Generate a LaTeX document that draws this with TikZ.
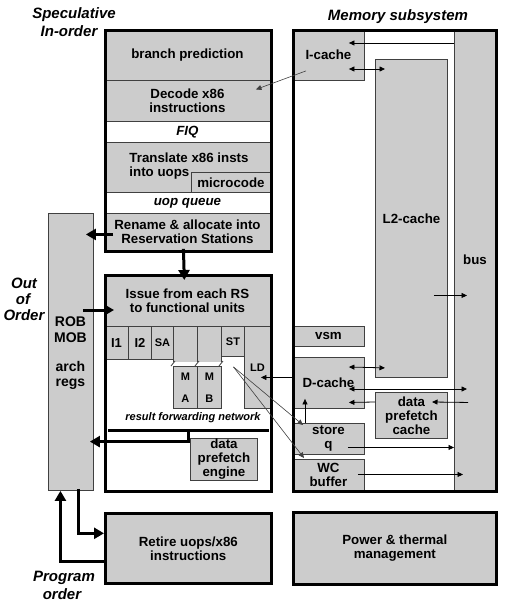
\documentclass[tikz,border=0pt]{standalone}
\usepackage{fontspec}
\setmainfont{Liberation Sans}
\usetikzlibrary{arrows.meta,calc}
\definecolor{boxgray}{HTML}{CCCCCC}
\definecolor{edgegray}{HTML}{404040}
\newcommand{\mybox}[7]{\node[#6, anchor=north west, minimum width={#4-#2}, minimum height={#5-#3}, inner sep=0pt] (#1) at (#2,#3) {#7};}
\tikzset{
 gbox/.style={draw=edgegray, line width=0.9pt, fill=boxgray, font=\bfseries\fontsize{13.3}{14}\selectfont, align=center},
 wbox/.style={gbox, fill=white, font=\bfseries\itshape\fontsize{13.3}{14}\selectfont},
 sbox/.style={gbox, font=\bfseries\fontsize{11}{12}\selectfont},
 ibox/.style={gbox, font=\bfseries\fontsize{13}{14}\selectfont},
 outer/.style={draw=black, line width=2.6pt},
 thinarrow/.style={draw=black, line width=0.8pt, -{Triangle[length=5.5pt,width=5pt]}},
 thindarrow/.style={draw=black, line width=0.8pt, {Triangle[length=5.5pt,width=5pt]}-{Triangle[length=5.5pt,width=5pt]}},
 greyarrow/.style={draw=edgegray, line width=0.6pt, -{Triangle[length=5.5pt,width=5pt]}},
 thickarrow/.style={draw=black, line width=3pt, line join=miter, -{Triangle[length=10pt,width=11pt]}},
 title/.style={font=\bfseries\itshape\fontsize{15}{16}\selectfont, inner sep=0pt, align=center},
 plain/.style={font=\bfseries\fontsize{13.3}{14}\selectfont, inner sep=0pt, align=center},
 slash/.style={draw=edgegray, line width=0.8pt},
}
\begin{document}
\begin{tikzpicture}[x=1pt,y=-1pt]
\useasboundingbox (0,0) rectangle (505,605);
\fill[white] (0,0) rectangle (505,605);

% titles
\node[title] (t1) at (74,15) {Speculative};
\node[title] (t2) at (69,31) {In-order};
\node[title] (t3) at (398,17) {Memory subsystem};
\node[title] (t4) at (24,283) {Out};
\node[title] (t5) at (23,299) {of};
\node[title] (t6) at (24,315) {Order};
\node[title] (t7) at (64,578) {Program};
\node[title] (t8) at (62,594) {order};

% speculative in-order column
\mybox{branch}{104}{29}{270}{80}{gbox}{branch prediction}
\mybox{decode}{104}{80}{270}{121}{gbox}{Decode x86\\instructions}
\mybox{fiq}{104}{121}{270}{142}{wbox}{FIQ}
\mybox{translate}{104}{142}{270}{192}{gbox}{}
\node[plain, align=left] (translatetxt) at (189,166) {Translate x86 insts\\into uops};
\mybox{micro}{191}{172}{270}{192}{gbox}{microcode}
\mybox{uopq}{104}{192}{270}{213}{wbox}{uop queue}
\mybox{rename}{104}{213}{270}{250}{gbox}{Rename \& allocate into\\Reservation Stations}
\mybox{spec}{104}{29}{270}{250}{outer}{}

% ROB column
\mybox{rob}{48}{213}{93}{490}{gbox}{}
\node[plain, font=\bfseries\fontsize{14}{16}\selectfont] (robtxt) at (70.5,330) {ROB\\MOB};
\node[plain, font=\bfseries\fontsize{14}{15}\selectfont] (archtxt) at (70.5,375) {arch\\regs};

% issue / out-of-order block
\mybox{issuefill}{104}{274}{270}{490}{draw=none,fill=white}{}
\mybox{issuetop}{104}{274}{270}{326}{gbox}{Issue from each RS\\to functional units}
\mybox{i1}{104}{326}{128}{359}{ibox}{I1}
\mybox{i2}{128}{326}{151}{359}{ibox}{I2}
\mybox{sa}{151}{326}{173}{359}{sbox}{SA}
\mybox{mau}{173}{326}{197}{362}{gbox}{}
\mybox{mbu}{197}{326}{221}{362}{gbox}{}
\mybox{st}{221}{326}{244}{356}{sbox}{ST}
\mybox{ld}{244}{326}{270}{408}{sbox}{LD}
\mybox{ma}{173}{366}{197}{408}{sbox}{M\\[10pt]A}
\mybox{mb}{197}{366}{221}{408}{sbox}{M\\[10pt]B}
\fill[white] (172,362.4) rectangle (222,365.6);
\draw[slash] (171,366) -- (175,361);
\draw[slash] (195,366) -- (199,361);
\draw[slash] (219,366) -- (223,361);
\node[font=\bfseries\itshape\fontsize{11}{12}\selectfont, inner sep=0pt] (rfn) at (193,418) {result forwarding network};
\mybox{dpe}{190}{438}{257}{480}{gbox}{data\\prefetch\\engine}
\mybox{issue}{104}{274}{270}{490}{outer}{}

% retire and power
\mybox{retire}{104}{512}{270}{582}{gbox, line width=2.6pt, draw=black}{Retire uops/x86\\instructions}
\mybox{power}{292}{511}{495}{583}{gbox, line width=2.6pt, draw=black}{Power \& thermal\\management}

% memory subsystem
\mybox{memfill}{292}{29}{495}{490}{draw=none,fill=white}{}
\mybox{bus}{454}{29}{495}{490}{gbox}{bus}
\mybox{icache}{292}{29}{364}{80}{gbox}{I-cache}
\mybox{l2}{375}{59}{447}{377}{gbox}{L2-cache}
\mybox{vsm}{292}{326}{364}{346}{gbox}{vsm}
\mybox{dcache}{292}{357}{364}{408}{gbox}{D-cache}
\mybox{dpc}{375}{392}{447}{438}{gbox}{data\\prefetch\\cache}
\mybox{storeq}{292}{423}{364}{454}{gbox}{store\\q}
\mybox{wc}{292}{459}{364}{490}{gbox}{WC\\buffer}
\mybox{mem}{292}{29}{495}{490}{outer}{}

% thin connectors in the memory subsystem
\draw[thinarrow] ($(bus.north west)+(0,14)$) -- ($(icache.north east)+(-16,14)$);
\draw[thindarrow] ($(icache.north east)+(-16,40)$) -- ($(l2.north west)+(10,10)$);
\draw[greyarrow] ($(icache.south west)+(14,-10)$) -- ($(decode.east)+(-15,-11.5)$);
\draw[thinarrow] ($(l2.east)+(-14,77)$) -- ($(bus.west)+(13,35.5)$);
\draw[thindarrow] ($(dcache.north east)+(-16,10)$) -- ($(l2.south west)+(10,-10)$);
\coordinate (dcb) at ($(dcache.north east)+(-16,32)$);
\draw[thindarrow] (dcb) -- ([xshift=13pt]dcb -| bus.west);
\draw[thinarrow] ($(dpc.north west)+(0,10)$) -- ($(dcache.east)+(-16,19.5)$);
\draw[thinarrow] ($(bus.west)+(14,142.5)$) -- ($(dpc.north west)+(57,10)$);
\coordinate (sqb) at ($(storeq.east)+(-17,8.5)$);
\draw[thinarrow] (sqb) -- (sqb -| bus.west);
\coordinate (wcb) at ($(wc.east)+(-7,-0.5)$);
\draw[thinarrow] (wcb) -- ([xshift=9pt]wcb -| bus.west);
\draw[thinarrow] ($(storeq.north west)+(13,0)$) -- ($(dcache.south west)+(13,-10)$);
\coordinate (stout) at ($(st.south)+(0.5,10)$);
\draw[greyarrow] (stout) -- ($(storeq.north west)+(11,2)$);
\draw[greyarrow] (stout) -- ($(wc.north west)+(12,-1)$);
\draw[thinarrow] ($(dcache.west)+(0,-5.5)$) -- ($(ld.east)+(-10,10)$);

% thick connectors
\coordinate (r1) at ($(rename.west)+(9,2.5)$);
\draw[thickarrow] (r1) -- ([xshift=-8pt]r1 -| rob.east);
\draw[thickarrow] ($(rename.south)+(-4,-2)$) -- ($(issue.north)+(-4,6)$);
\coordinate (ii) at ($(issue.north west)+(10,36)$);
\draw[thickarrow] ([xshift=-11pt]ii -| rob.east) -- (ii);
\coordinate (fwl) at ($(issue.south west)+(4,-62)$);
\coordinate (fwr) at ($(issue.south east)+(-4,-62)$);
\draw[line width=3pt] (fwl) -- (fwr);
\coordinate (fj) at ($(issue.south)+(0,-62)$);
\coordinate (fk) at ($(issue.south)+(0,-51)$);
\draw[thickarrow] (fj) -- (fk) -- ([xshift=-4pt]fk -| rob.east);
\coordinate (rr) at ($(retire.west)+(0,-15)$);
\draw[thickarrow] ($(rob.south)+(7.5,-2)$) |- (rr);
\coordinate (rl) at ($(retire.west)+(0,13)$);
\draw[thickarrow] (rl) -| ($(rob.south)+(-10.5,0)$);
\end{tikzpicture}
\end{document}
